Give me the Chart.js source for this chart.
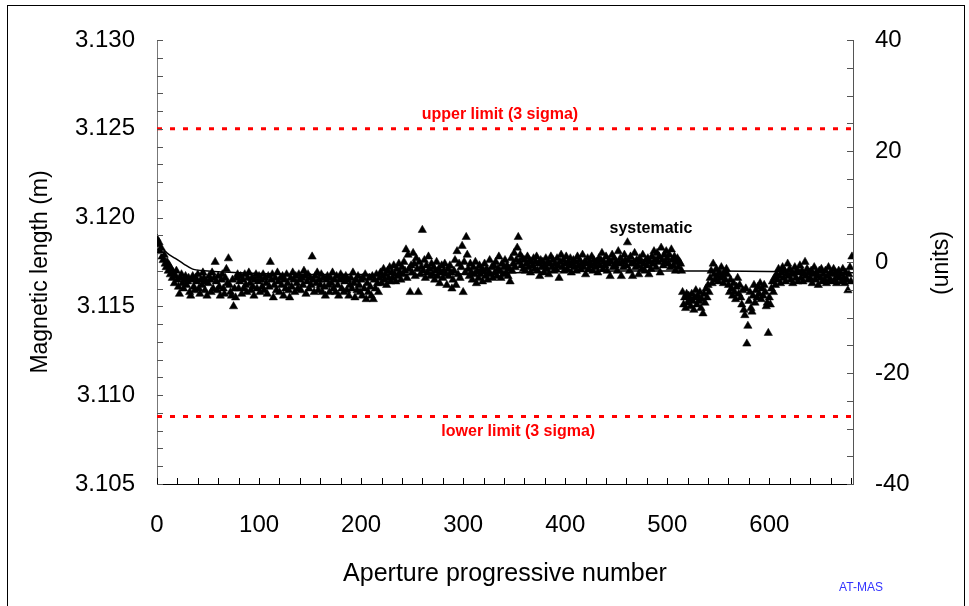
<!DOCTYPE html>
<html>
<head>
<meta charset="utf-8">
<title>Magnetic length</title>
<script src="https://cdn.jsdelivr.net/npm/chart.js@4.4.0/dist/chart.umd.min.js"></script>
<style>
  html, body { margin: 0; padding: 0; background: #fff; }
  canvas { display: block; }
</style>
</head>
<body>
<canvas id="lengthChart" width="969" height="606"></canvas>
<script>
// measured magnetic length per aperture (m), aperture 0..681
const lengths = [
  3.1188, 3.1185, 3.1186, 3.1181, 3.1183, 3.1178, 3.1176, 3.1179, 3.1174, 3.1172,
  3.1175, 3.1170, 3.1173, 3.1168, 3.1171, 3.1166, 3.1169, 3.1163, 3.1167, 3.1170,
  3.1165, 3.1161, 3.1157, 3.1166, 3.1168, 3.1163, 3.1160, 3.1165, 3.1167, 3.1162,
  3.1164, 3.1166, 3.1158, 3.1156, 3.1165, 3.1167, 3.1161, 3.1159, 3.1166, 3.1164,
  3.1168, 3.1160, 3.1157, 3.1165, 3.1162, 3.1169, 3.1166, 3.1159, 3.1164, 3.1156,
  3.1163, 3.1167, 3.1165, 3.1158, 3.1169, 3.1160, 3.1166, 3.1175, 3.1164, 3.1159,
  3.1167, 3.1161, 3.1156, 3.1165, 3.1168, 3.1160, 3.1157, 3.1166, 3.1171, 3.1163,
  3.1177, 3.1162, 3.1158, 3.1156, 3.1165, 3.1150, 3.1160, 3.1155, 3.1166, 3.1168,
  3.1160, 3.1164, 3.1167, 3.1157, 3.1165, 3.1160, 3.1168, 3.1162, 3.1158, 3.1166,
  3.1169, 3.1163, 3.1159, 3.1166, 3.1161, 3.1156, 3.1165, 3.1168, 3.1160, 3.1164,
  3.1167, 3.1158, 3.1165, 3.1161, 3.1168, 3.1159, 3.1166, 3.1163, 3.1157, 3.1167,
  3.1161, 3.1175, 3.1165, 3.1168, 3.1155, 3.1162, 3.1166, 3.1159, 3.1169, 3.1164,
  3.1158, 3.1166, 3.1162, 3.1167, 3.1156, 3.1165, 3.1160, 3.1168, 3.1163, 3.1159,
  3.1155, 3.1166, 3.1161, 3.1169, 3.1165, 3.1158, 3.1167, 3.1163, 3.1160, 3.1168,
  3.1165, 3.1159, 3.1166, 3.1162, 3.1170, 3.1167, 3.1157, 3.1164, 3.1168, 3.1160,
  3.1166, 3.1162, 3.1178, 3.1165, 3.1158, 3.1167, 3.1163, 3.1169, 3.1159, 3.1165,
  3.1162, 3.1168, 3.1158, 3.1166, 3.1161, 3.1156, 3.1165, 3.1167, 3.1162, 3.1158,
  3.1166, 3.1163, 3.1169, 3.1160, 3.1165, 3.1158, 3.1167, 3.1162, 3.1156, 3.1165,
  3.1168, 3.1160, 3.1166, 3.1158, 3.1164, 3.1167, 3.1159, 3.1165, 3.1156, 3.1162,
  3.1166, 3.1160, 3.1169, 3.1163, 3.1155, 3.1165, 3.1159, 3.1167, 3.1162, 3.1158,
  3.1165, 3.1156, 3.1166, 3.1160, 3.1168, 3.1154, 3.1163, 3.1158, 3.1166, 3.1161,
  3.1156, 3.1167, 3.1154, 3.1165, 3.1160, 3.1168, 3.1163, 3.1158, 3.1166, 3.1169,
  3.1163, 3.1167, 3.1171, 3.1165, 3.1168, 3.1162, 3.1170, 3.1166, 3.1172, 3.1164,
  3.1169, 3.1166, 3.1173, 3.1168, 3.1164, 3.1171, 3.1167, 3.1174, 3.1169, 3.1165,
  3.1172, 3.1168, 3.1175, 3.1170, 3.1182, 3.1166, 3.1179, 3.1171, 3.1158, 3.1173,
  3.1169, 3.1180, 3.1174, 3.1167, 3.1177, 3.1171, 3.1158, 3.1175, 3.1168, 3.1172,
  3.1193, 3.1170, 3.1176, 3.1166, 3.1173, 3.1169, 3.1178, 3.1171, 3.1167, 3.1174,
  3.1168, 3.1172, 3.1165, 3.1170, 3.1175, 3.1167, 3.1171, 3.1163, 3.1169, 3.1173,
  3.1166, 3.1170, 3.1174, 3.1168, 3.1162, 3.1171, 3.1167, 3.1173, 3.1169, 3.1160,
  3.1165, 3.1170, 3.1176, 3.1162, 3.1181, 3.1168, 3.1174, 3.1166, 3.1172, 3.1184,
  3.1158, 3.1175, 3.1169, 3.1189, 3.1179, 3.1171, 3.1167, 3.1174, 3.1169, 3.1165,
  3.1172, 3.1168, 3.1175, 3.1163, 3.1170, 3.1166, 3.1173, 3.1168, 3.1171, 3.1164,
  3.1170, 3.1174, 3.1167, 3.1171, 3.1165, 3.1169, 3.1176, 3.1168, 3.1172, 3.1166,
  3.1173, 3.1169, 3.1175, 3.1167, 3.1171, 3.1178, 3.1170, 3.1166, 3.1174, 3.1168,
  3.1172, 3.1176, 3.1169, 3.1173, 3.1167, 3.1171, 3.1164, 3.1177, 3.1170, 3.1174,
  3.1180, 3.1172, 3.1176, 3.1183, 3.1189, 3.1175, 3.1179, 3.1173, 3.1177, 3.1171,
  3.1176, 3.1170, 3.1174, 3.1178, 3.1172, 3.1176, 3.1169, 3.1175, 3.1173, 3.1177,
  3.1171, 3.1175, 3.1178, 3.1170, 3.1174, 3.1167, 3.1176, 3.1172, 3.1175, 3.1169,
  3.1173, 3.1177, 3.1171, 3.1175, 3.1168, 3.1174, 3.1178, 3.1172, 3.1176, 3.1170,
  3.1174, 3.1171, 3.1177, 3.1173, 3.1166, 3.1175, 3.1179, 3.1172, 3.1176, 3.1170,
  3.1174, 3.1178, 3.1171, 3.1175, 3.1173, 3.1177, 3.1169, 3.1174, 3.1176, 3.1172,
  3.1175, 3.1170, 3.1178, 3.1173, 3.1176, 3.1171, 3.1174, 3.1179, 3.1172, 3.1175,
  3.1168, 3.1174, 3.1177, 3.1171, 3.1175, 3.1173, 3.1178, 3.1170, 3.1176, 3.1174,
  3.1172, 3.1175, 3.1169, 3.1177, 3.1173, 3.1176, 3.1180, 3.1171, 3.1175, 3.1173,
  3.1178, 3.1170, 3.1174, 3.1176, 3.1167, 3.1175, 3.1179, 3.1172, 3.1177, 3.1173,
  3.1175, 3.1170, 3.1181, 3.1174, 3.1177, 3.1167, 3.1175, 3.1172, 3.1179, 3.1176,
  3.1173, 3.1186, 3.1176, 3.1170, 3.1178, 3.1174, 3.1167, 3.1175, 3.1180, 3.1172,
  3.1176, 3.1173, 3.1168, 3.1177, 3.1175, 3.1171, 3.1179, 3.1174, 3.1170, 3.1176,
  3.1173, 3.1177, 3.1168, 3.1175, 3.1171, 3.1178, 3.1174, 3.1181, 3.1176, 3.1172,
  3.1180, 3.1175, 3.1178, 3.1169, 3.1183, 3.1176, 3.1173, 3.1179, 3.1175, 3.1181,
  3.1177, 3.1174, 3.1179, 3.1172, 3.1182, 3.1176, 3.1173, 3.1178, 3.1170, 3.1175,
  3.1177, 3.1172, 3.1175, 3.1174, 3.1170, 3.1158, 3.1151, 3.1155, 3.1149, 3.1157,
  3.1152, 3.1156, 3.1154, 3.1150, 3.1157, 3.1153, 3.1148, 3.1155, 3.1159, 3.1151,
  3.1156, 3.1153, 3.1158, 3.1149, 3.1154, 3.1146, 3.1157, 3.1152, 3.1160, 3.1155,
  3.1162, 3.1158, 3.1166, 3.1170, 3.1163, 3.1174, 3.1168, 3.1165, 3.1171, 3.1167,
  3.1164, 3.1169, 3.1166, 3.1172, 3.1167, 3.1163, 3.1169, 3.1165, 3.1171, 3.1168,
  3.1162, 3.1158, 3.1165, 3.1160, 3.1156, 3.1163, 3.1158, 3.1154, 3.1161, 3.1166,
  3.1157, 3.1162, 3.1155, 3.1151, 3.1159, 3.1148, 3.1145, 3.1160, 3.1129, 3.1139,
  3.1153, 3.1158, 3.1149, 3.1147, 3.1156, 3.1162, 3.1152, 3.1159, 3.1155, 3.1161,
  3.1157, 3.1163, 3.1154, 3.1160, 3.1156, 3.1162, 3.1158, 3.1150, 3.1152, 3.1135,
  3.1155, 3.1151, 3.1160, 3.1164, 3.1158, 3.1166, 3.1162, 3.1168, 3.1165, 3.1171,
  3.1167, 3.1163, 3.1169, 3.1172, 3.1166, 3.1170, 3.1164, 3.1168, 3.1174, 3.1167,
  3.1171, 3.1165, 3.1169, 3.1163, 3.1168, 3.1172, 3.1166, 3.1170, 3.1164, 3.1169,
  3.1173, 3.1166, 3.1170, 3.1164, 3.1168, 3.1175, 3.1167, 3.1171, 3.1165, 3.1169,
  3.1166, 3.1170, 3.1163, 3.1168, 3.1172, 3.1165, 3.1169, 3.1167, 3.1162, 3.1170,
  3.1166, 3.1171, 3.1164, 3.1168, 3.1165, 3.1170, 3.1163, 3.1167, 3.1172, 3.1165,
  3.1169, 3.1164, 3.1168, 3.1171, 3.1165, 3.1169, 3.1163, 3.1167, 3.1170, 3.1166,
  3.1168, 3.1164, 3.1171, 3.1166, 3.1163, 3.1169, 3.1165, 3.1159, 3.1168, 3.1172,
  3.1164, 3.1178
];

// systematic trend
const sysX = [0, 5, 10, 18, 26, 35, 50, 80, 150, 250, 350, 450, 550, 682];
const sysY = [3.1187, 3.1183, 3.1180, 3.1177, 3.1174, 3.1171, 3.1170, 3.1169, 3.1168, 3.1168, 3.1169, 3.1170, 3.1170, 3.1169];

const upperLimit = 3.125;
const lowerLimit = 3.1088;

const xRange = [0, 682];
const lengthRange = [3.105, 3.130];
const unitsRange = [-40, 40];

const FONT = "'Liberation Sans', Arial, Helvetica, sans-serif";

const points = lengths.map((v, i) => ({ x: i, y: v }));
const sysPoints = sysX.map((x, i) => ({ x: x, y: sysY[i] }));
const limitLine = v => xRange.map(x => ({ x: x, y: v }));

// inward tick marks, axis titles, labels and frame
const decorPlugin = {
    id: 'decor',
    afterDraw(chart) {
        const ctx = chart.ctx;
        const { x, y, yUnits } = chart.scales;
        const area = chart.chartArea;
        ctx.save();

        ctx.lineWidth = 1;
        ctx.strokeStyle = '#000';
        ctx.beginPath();
        for (let v = 0; v <= 680; v += 20) {
            const px = Math.round(x.getPixelForValue(v)) + 0.5;
            ctx.moveTo(px, area.bottom);
            ctx.lineTo(px, area.bottom - 6);
        }
        ctx.stroke();

        ctx.strokeStyle = '#555';
        ctx.beginPath();
        for (let i = 0; i <= 25; i++) {
            const py = Math.round(y.getPixelForValue(3.105 + i * 0.001)) + 0.5;
            ctx.moveTo(area.left, py);
            ctx.lineTo(area.left + 6, py);
        }
        for (let v = -40; v <= 40; v += 5) {
            const py = Math.round(yUnits.getPixelForValue(v)) + 0.5;
            ctx.moveTo(area.right, py);
            ctx.lineTo(area.right - 6, py);
        }
        ctx.stroke();

        // axis titles
        ctx.fillStyle = '#000';
        ctx.textAlign = 'center';
        ctx.textBaseline = 'middle';
        ctx.font = '25px ' + FONT;
        ctx.fillText('Aperture progressive number', 505, 574);

        ctx.save();
        ctx.translate(41, 272);
        ctx.rotate(-Math.PI / 2);
        ctx.font = '23px ' + FONT;
        ctx.fillText('Magnetic length (m)', 0, 0);
        ctx.restore();

        ctx.save();
        ctx.translate(942, 263);
        ctx.rotate(-Math.PI / 2);
        ctx.font = '23px ' + FONT;
        ctx.fillText('(units)', 0, 0);
        ctx.restore();

        // limit and trend labels
        ctx.font = 'bold 16px ' + FONT;
        ctx.fillStyle = '#ff0000';
        ctx.fillText('upper limit (3 sigma)', x.getPixelForValue(336), y.getPixelForValue(upperLimit) - 14);
        ctx.fillText('lower limit (3 sigma)', x.getPixelForValue(354), y.getPixelForValue(lowerLimit) + 15);
        ctx.fillStyle = '#000';
        ctx.fillText('systematic', x.getPixelForValue(484), 229);

        ctx.font = '12px ' + FONT;
        ctx.fillStyle = '#3333ff';
        ctx.fillText('AT-MAS', 861, 588);

        // outer frame
        ctx.strokeStyle = '#000';
        ctx.strokeRect(7.5, 5.5, 957, 620);
        ctx.restore();
    }
};

new Chart(document.getElementById('lengthChart'), {
    type: 'scatter',
    data: {
        datasets: [
            {
                label: 'systematic',
                data: sysPoints,
                showLine: true,
                borderColor: '#000',
                borderWidth: 1.5,
                pointRadius: 0,
                cubicInterpolationMode: 'monotone'
            },
            {
                label: 'apertures',
                data: points,
                pointStyle: 'triangle',
                pointRadius: 4.8,
                backgroundColor: '#000',
                borderColor: '#000',
                borderWidth: 0.5
            },
            {
                label: 'upper limit',
                data: limitLine(upperLimit),
                showLine: true,
                borderColor: '#ff0000',
                borderWidth: 3,
                borderDash: [5, 8],
                pointRadius: 0
            },
            {
                label: 'lower limit',
                data: limitLine(lowerLimit),
                showLine: true,
                borderColor: '#ff0000',
                borderWidth: 3,
                borderDash: [5, 8],
                pointRadius: 0
            }
        ]
    },
    options: {
        responsive: false,
        animation: false,
        devicePixelRatio: 1,
        layout: { padding: { top: 40 } },
        plugins: { legend: { display: false }, tooltip: { enabled: false } },
        scales: {
            x: {
                type: 'linear', position: 'bottom',
                min: xRange[0], max: xRange[1],
                grid: { display: false, drawTicks: false },
                border: { color: '#000', width: 1 },
                ticks: { stepSize: 100, includeBounds: false, padding: 27, maxRotation: 0, color: '#000', font: { size: 24, family: FONT } },
                afterFit: s => { s.height = 122; }
            },
            y: {
                position: 'left',
                min: lengthRange[0], max: lengthRange[1],
                grid: { display: false, drawTicks: false },
                border: { color: '#777', width: 1 },
                ticks: { stepSize: 0.005, padding: 22, color: '#000', font: { size: 24, family: FONT }, callback: v => v.toFixed(3) },
                afterFit: s => { s.width = 157; }
            },
            yUnits: {
                position: 'right',
                min: unitsRange[0], max: unitsRange[1],
                grid: { display: false, drawTicks: false },
                border: { color: '#555', width: 1 },
                ticks: { stepSize: 20, padding: 22, color: '#000', font: { size: 24, family: FONT } },
                afterFit: s => { s.width = 116; }
            }
        }
    },
    plugins: [decorPlugin]
});
</script>
</body>
</html>
